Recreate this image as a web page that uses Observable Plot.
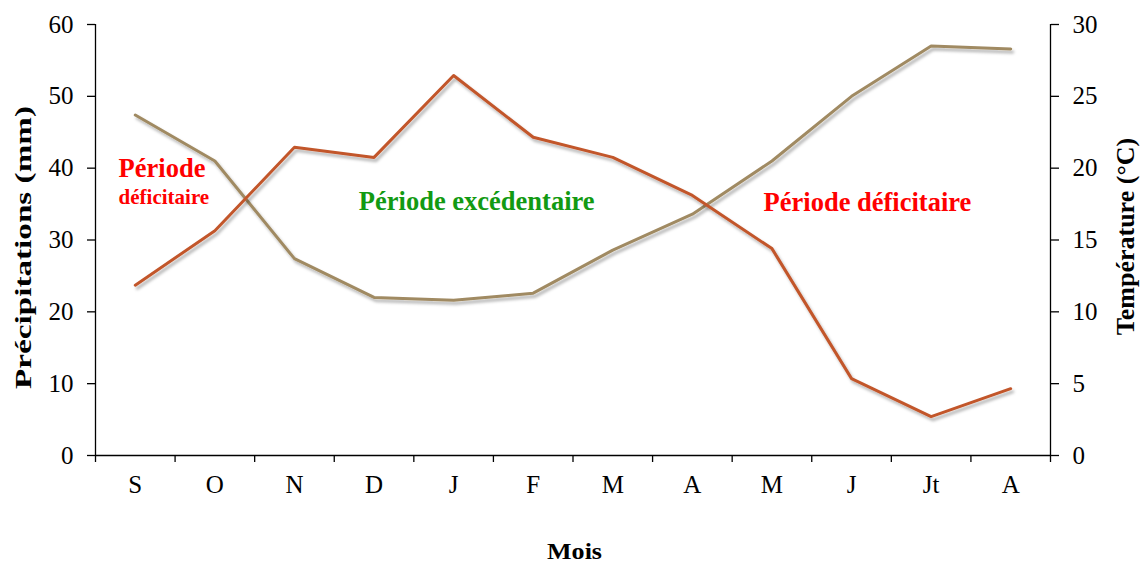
<!DOCTYPE html>
<html>
<head>
<meta charset="utf-8">
<script src="https://cdn.jsdelivr.net/npm/d3@7"></script>
<script src="https://cdn.jsdelivr.net/npm/@observablehq/plot@0.6"></script>
<style>
  html, body { margin: 0; padding: 0; background: #fff; }
  #chart { width: 1144px; height: 564px; }
</style>
</head>
<body>
<div id="chart"></div>
<script>
// Months (x categories)
const months = ["S", "O", "N", "D", "J", "F", "M", "A", "M", "J", "Jt", "A"];
// Precipitation (mm), left axis
const precipitation = [23.7, 31.3, 42.9, 41.5, 52.9, 44.3, 41.5, 36.2, 28.8, 10.7, 5.4, 9.3];
// Temperature (°C), right axis
const temperature = [23.7, 20.5, 13.7, 11.0, 10.8, 11.3, 14.3, 16.8, 20.5, 25.0, 28.5, 28.3];
// Tick labels
const precipTicks = [0, 10, 20, 30, 40, 50, 60];
const tempTicks = [0, 5, 10, 15, 20, 25, 30];
// Annotations (month index, precipitation value)
const notes = [
  {i: -0.21, v: 39.9, text: "Période", color: "#ff0000", size: 26.5, anchor: "start"},
  {i: -0.21, v: 36.0, text: "déficitaire", color: "#ff0000", size: 21, anchor: "start"},
  {i: 4.29, v: 35.4, text: "Période excédentaire", color: "#129a12", size: 26.5, anchor: "middle"},
  {i: 9.2, v: 35.15, text: "Période déficitaire", color: "#ff0000", size: 26.5, anchor: "middle"}
];

const data = months.map((m, i) => ({i, month: m, p: precipitation[i], t: temperature[i]}));
const ratio = 60 / 30; // left scale / right scale
const boundaries = d3.range(months.length + 1).map(k => k - 0.5);

const chart = Plot.plot({
  width: 1144,
  height: 564,
  marginLeft: 95,
  marginRight: 94,
  marginTop: 24,
  marginBottom: 109,
  style: {fontFamily: "'Liberation Serif', 'Times New Roman', serif", fontSize: "25px", color: "#000", background: "#fff", overflow: "visible"},
  x: {type: "linear", domain: [-0.5, months.length - 0.5]},
  y: {domain: [0, 60]},
  marks: [
    // axis lines
    Plot.ruleY([0], {stroke: "#000", strokeWidth: 1.3}),
    Plot.ruleX([-0.5, months.length - 0.5], {y1: 0, y2: 60, stroke: "#000", strokeWidth: 1.3}),
    // x boundary ticks
    Plot.axisX({ticks: boundaries, tickFormat: () => "", tickSize: 7, label: null, strokeWidth: 1.3}),
    // x labels
    Plot.axisX({ticks: d3.range(months.length), tickFormat: k => months[k], tickSize: 0, tickPadding: 20, fontSize: 25, label: null}),
    // left axis
    Plot.axisY({anchor: "left", ticks: precipTicks, tickSize: 8, tickPadding: 14, fontSize: 25, label: null, strokeWidth: 1.3}),
    // right axis
    Plot.axisY({anchor: "right", ticks: tempTicks.map(t => t * ratio), tickFormat: d => d / ratio, tickSize: 8, tickPadding: 14, fontSize: 25, label: null, strokeWidth: 1.3}),
    // lines
    Plot.line(data, {x: "i", y: d => d.t * ratio, stroke: "#a08a62", strokeWidth: 3}),
    Plot.line(data, {x: "i", y: "p", stroke: "#c2562b", strokeWidth: 3}),
    // annotations
    ...notes.map(n => Plot.text([n], {x: "i", y: "v", text: "text", fill: n.color, fontSize: n.size, fontWeight: "bold", textAnchor: n.anchor})),
    // axis titles
    Plot.text(["Précipitations (mm)"], {frameAnchor: "left", textAnchor: "middle", lineAnchor: "middle", rotate: -90, dx: -72, dy: 7.5, fontSize: 23.5, fontWeight: "bold", fill: "#000"}),
    Plot.text(["Température (°C)"], {frameAnchor: "right", textAnchor: "middle", lineAnchor: "middle", rotate: -90, dx: 75, dy: -3.5, fontSize: 26, fontWeight: "bold", fill: "#000"}),
    Plot.text(["Mois"], {frameAnchor: "bottom", textAnchor: "middle", lineAnchor: "middle", dx: 1.5, dy: 96, fontSize: 23, fontWeight: "bold", fill: "#000"})
  ]
});

// stretch titles to the reference's proportions
chart.querySelectorAll("text").forEach(t => {
  if (t.textContent === "Précipitations (mm)") { t.setAttribute("textLength", 283); t.setAttribute("lengthAdjust", "spacingAndGlyphs"); }
  if (t.textContent === "Mois") { t.setAttribute("textLength", 55); t.setAttribute("lengthAdjust", "spacingAndGlyphs"); }
});

// subtle drop shadow on the data lines
const ns = "http://www.w3.org/2000/svg";
const defs = document.createElementNS(ns, "defs");
defs.innerHTML = '<filter id="shadow" x="-5%" y="-5%" width="110%" height="120%"><feDropShadow dx="2" dy="3" stdDeviation="1.5" flood-color="#000" flood-opacity="0.3"/></filter>';
chart.insertBefore(defs, chart.firstChild);
chart.querySelectorAll('g[aria-label="line"]').forEach(g => g.setAttribute("filter", "url(#shadow)"));

document.getElementById("chart").appendChild(chart);
</script>
</body>
</html>
